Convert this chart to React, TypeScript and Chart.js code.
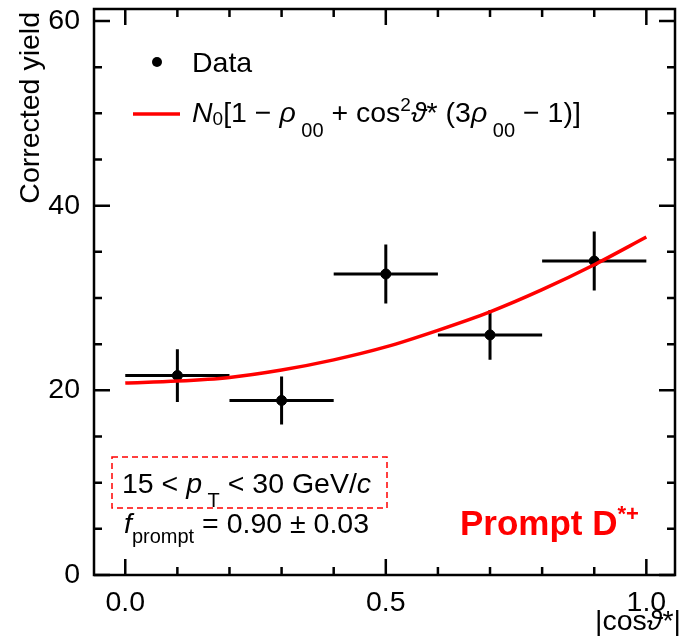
import React, { useEffect, useRef } from 'react';
import { Chart, registerables } from 'chart.js';

Chart.register(...registerables);

// ---- data ----
const binCenters = [0.1, 0.3, 0.5, 0.7, 0.9];
const binHalfWidths = [0.1, 0.1, 0.1, 0.1, 0.1];
const yieldValues = [21.6, 18.9, 32.6, 26.0, 34.0];
const yieldErrors = [2.85, 2.6, 3.2, 2.7, 3.2];

const fitX = [0.0, 0.1, 0.2, 0.3, 0.4, 0.5, 0.6, 0.7, 0.8, 0.9, 1.0];
const fitY = [20.8, 21.0, 21.4, 22.2, 23.3, 24.7, 26.5, 28.5, 30.9, 33.6, 36.6];

const xTickValues = [0.0, 0.5, 1.0];
const xTickLabels = ['0.0', '0.5', '1.0'];
const xMinorTicks = [0.1, 0.2, 0.3, 0.4, 0.6, 0.7, 0.8, 0.9];
const yTickValues = [0, 20, 40, 60];
const yTickLabels = ['0', '20', '40', '60'];
const yMinorTicks = [5, 10, 15, 25, 30, 35, 45, 50, 55];

const FONT = '"Liberation Sans", Arial, Helvetica, sans-serif';
const RED = 'rgb(255,0,0)';
const FS = 28.5;

type Run = { t: string; size?: number; italic?: boolean; bold?: boolean; dy?: number };

function drawRuns(ctx: CanvasRenderingContext2D, x: number, y: number, runs: Run[], base: number) {
  let cx = x;
  for (const r of runs) {
    ctx.font = `${r.italic ? 'italic ' : ''}${r.bold ? 'bold ' : ''}${r.size ?? base}px ${FONT}`;
    ctx.fillText(r.t, cx, y + (r.dy ?? 0));
    cx += ctx.measureText(r.t).width;
  }
  return cx;
}

function measureRuns(ctx: CanvasRenderingContext2D, runs: Run[], base: number) {
  let w = 0;
  for (const r of runs) {
    ctx.font = `${r.italic ? 'italic ' : ''}${r.bold ? 'bold ' : ''}${r.size ?? base}px ${FONT}`;
    w += ctx.measureText(r.t).width;
  }
  return w;
}

const errorBarPlugin = {
  id: 'errorBars',
  beforeDatasetsDraw(chart: any) {
    const { ctx, scales } = chart;
    const xs = scales.x;
    const ys = scales.y;
    ctx.save();
    ctx.strokeStyle = '#000';
    ctx.lineWidth = 3;
    for (let i = 0; i < binCenters.length; i++) {
      const xc = xs.getPixelForValue(binCenters[i]);
      const yc = ys.getPixelForValue(yieldValues[i]);
      const xl = xs.getPixelForValue(binCenters[i] - binHalfWidths[i]);
      const xr = xs.getPixelForValue(binCenters[i] + binHalfWidths[i]);
      const yt = ys.getPixelForValue(yieldValues[i] + yieldErrors[i]);
      const yb = ys.getPixelForValue(yieldValues[i] - yieldErrors[i]);
      ctx.beginPath();
      ctx.moveTo(xl, yc);
      ctx.lineTo(xr, yc);
      ctx.moveTo(xc, yt);
      ctx.lineTo(xc, yb);
      ctx.stroke();
    }
    ctx.restore();
  },
};

const framePlugin = {
  id: 'frameTicks',
  afterDraw(chart: any) {
    const { ctx, chartArea, scales } = chart;
    const { left, right, top, bottom } = chartArea;
    const xs = scales.x;
    const ys = scales.y;
    ctx.save();
    ctx.strokeStyle = '#000';
    ctx.lineWidth = 2.5;
    ctx.strokeRect(left, top, right - left, bottom - top);
    const major = 16;
    const minor = 8;
    ctx.beginPath();
    const xt = (v: number, len: number) => {
      const p = xs.getPixelForValue(v);
      ctx.moveTo(p, bottom);
      ctx.lineTo(p, bottom - len);
      ctx.moveTo(p, top);
      ctx.lineTo(p, top + len);
    };
    const yt = (v: number, len: number) => {
      const p = ys.getPixelForValue(v);
      ctx.moveTo(left, p);
      ctx.lineTo(left + len, p);
      ctx.moveTo(right, p);
      ctx.lineTo(right - len, p);
    };
    xTickValues.forEach((v) => xt(v, major));
    xMinorTicks.forEach((v) => xt(v, minor));
    yTickValues.forEach((v) => yt(v, major));
    yMinorTicks.forEach((v) => yt(v, minor));
    ctx.stroke();

    // axis titles
    ctx.fillStyle = '#000';
    ctx.textBaseline = 'alphabetic';
    ctx.save();
    ctx.translate(39, 12);
    ctx.rotate(-Math.PI / 2);
    ctx.textAlign = 'right';
    ctx.font = `${FS}px ${FONT}`;
    ctx.fillText('Corrected yield', 0, 0);
    ctx.restore();

    ctx.textAlign = 'left';
    const xTitle: Run[] = [{ t: '|cos' }, { t: 'ϑ', italic: true }, { t: '*|' }];
    const xw = measureRuns(ctx, xTitle, FS);
    drawRuns(ctx, 681 - xw, 630, xTitle, FS);

    // legend
    ctx.beginPath();
    ctx.arc(157, 62, 5, 0, Math.PI * 2);
    ctx.fill();
    ctx.font = `${FS}px ${FONT}`;
    ctx.fillText('Data', 192, 72);

    ctx.strokeStyle = RED;
    ctx.lineWidth = 3.5;
    ctx.beginPath();
    ctx.moveTo(133, 114);
    ctx.lineTo(180, 114);
    ctx.stroke();

    drawRuns(
      ctx,
      192,
      122,
      [
        { t: 'N', italic: true },
        { t: '0', size: 19, dy: 3 },
        { t: '[1 − ' },
        { t: 'ρ', italic: true },
        { t: ' 00', size: 20, dy: 15 },
        { t: ' + cos' },
        { t: '2', size: 19, dy: -11 },
        { t: 'ϑ', italic: true },
        { t: '* (3' },
        { t: 'ρ', italic: true },
        { t: ' 00', size: 20, dy: 15 },
        { t: ' − 1)]' },
      ],
      FS
    );

    // kinematic box
    ctx.strokeStyle = RED;
    ctx.lineWidth = 1.5;
    ctx.setLineDash([6, 4]);
    ctx.strokeRect(112, 457, 275, 51);
    ctx.setLineDash([]);
    drawRuns(
      ctx,
      122,
      493,
      [
        { t: '15 < ' },
        { t: 'p', italic: true },
        { t: ' T', size: 20, dy: 14 },
        { t: ' < 30 GeV/' },
        { t: 'c', italic: true },
      ],
      FS
    );
    drawRuns(
      ctx,
      124,
      533,
      [
        { t: 'f', italic: true },
        { t: 'prompt', size: 20, dy: 10 },
        { t: ' = 0.90 ± 0.03' },
      ],
      FS
    );

    ctx.fillStyle = RED;
    drawRuns(
      ctx,
      460,
      535,
      [
        { t: 'Prompt D', bold: true },
        { t: '*+', bold: true, size: 22, dy: -14 },
      ],
      35
    );
    ctx.restore();
  },
};

export default function App() {
  const ref = useRef<HTMLCanvasElement | null>(null);

  useEffect(() => {
    document.body.style.margin = '0';
    const canvas = ref.current;
    if (!canvas) return;
    const chart = new Chart(canvas, {
      type: 'scatter',
      data: {
        datasets: [
          {
            type: 'line',
            label: 'fit',
            data: fitX.map((x, i) => ({ x, y: fitY[i] })),
            borderColor: RED,
            borderWidth: 3.5,
            pointRadius: 0,
            cubicInterpolationMode: 'monotone',
            fill: false,
            order: 0,
          } as any,
          {
            type: 'scatter',
            label: 'Data',
            data: binCenters.map((x, i) => ({ x, y: yieldValues[i] })),
            backgroundColor: '#000',
            borderColor: '#000',
            pointRadius: 5,
            order: 1,
          },
        ],
      },
      options: {
        animation: false,
        responsive: false,
        devicePixelRatio: 1,
        layout: { padding: { left: 0, top: 9, right: 2, bottom: 0 } },
        plugins: { legend: { display: false }, tooltip: { enabled: false } },
        scales: {
          x: {
            type: 'linear',
            min: -0.06,
            max: 1.055,
            grid: { display: false, drawTicks: false },
            border: { display: false },
            afterBuildTicks: (s: any) => {
              s.ticks = xTickValues.map((v) => ({ value: v }));
            },
            afterFit: (s: any) => {
              s.height = 62;
              s.paddingLeft = 0;
              s.paddingRight = 0;
            },
            ticks: {
              autoSkip: false,
              maxRotation: 0,
              padding: 11,
              color: '#000',
              font: { family: FONT, size: FS },
              callback: (v: any) => {
                const i = xTickValues.findIndex((t) => Math.abs(t - Number(v)) < 1e-9);
                return i >= 0 ? xTickLabels[i] : '';
              },
            },
          },
          y: {
            type: 'linear',
            min: 0,
            max: 61.3,
            grid: { display: false, drawTicks: false },
            border: { display: false },
            afterBuildTicks: (s: any) => {
              s.ticks = yTickValues.map((v) => ({ value: v }));
            },
            afterFit: (s: any) => {
              s.width = 94;
              s.paddingTop = 0;
              s.paddingBottom = 0;
            },
            ticks: {
              padding: 14,
              color: '#000',
              font: { family: FONT, size: FS },
              callback: (v: any) => {
                const i = yTickValues.findIndex((t) => Math.abs(t - Number(v)) < 1e-9);
                return i >= 0 ? yTickLabels[i] : '';
              },
            },
          },
        },
      },
      plugins: [errorBarPlugin, framePlugin],
    });
    return () => chart.destroy();
  }, []);

  return <canvas ref={ref} width={681} height={637} style={{ display: 'block' }} />;
}
